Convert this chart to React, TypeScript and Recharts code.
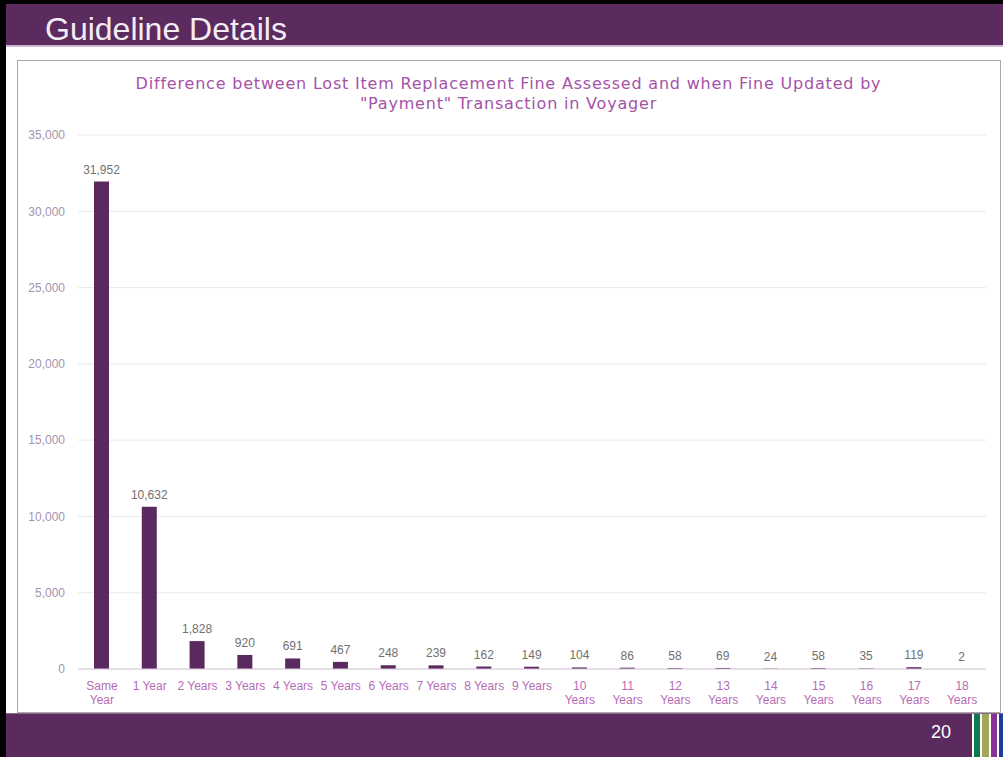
import { BarChart, Bar, XAxis, YAxis, CartesianGrid, LabelList } from "recharts";

// 분류 (지급까지 걸린 연수)
const categories = [
  "Same Year", "1 Year", "2 Years", "3 Years", "4 Years", "5 Years", "6 Years",
  "7 Years", "8 Years", "9 Years", "10 Years", "11 Years", "12 Years", "13 Years",
  "14 Years", "15 Years", "16 Years", "17 Years", "18 Years",
];

const counts = [
  31952, 10632, 1828, 920, 691, 467, 248, 239, 162, 149, 104, 86, 58, 69, 24, 58, 35, 119, 2,
];

const yTicks = [0, 5000, 10000, 15000, 20000, 25000, 30000, 35000];

const PURPLE = "#5b2b5f";
const FONT = "Liberation Sans, Arial, sans-serif";

const fmt = (v: number) => v.toLocaleString("en-US");

// 긴 라벨은 두 줄로
function CategoryTick(props: any) {
  const { x, y, payload } = props;
  const label: string = payload.value;
  const lines = label.length > 7 ? label.split(" ") : [label];
  return (
    <text x={x} y={y} textAnchor="middle" fill="#b56cb6" fontSize={12} fontFamily={FONT}>
      {lines.map((l, i) => (
        <tspan key={i} x={x} dy={i === 0 ? 21 : 14}>
          {l}
        </tspan>
      ))}
    </text>
  );
}

export default function App() {
  const data = categories.map((name, i) => ({ name, value: counts[i] }));

  return (
    <div
      style={{
        position: "absolute",
        left: 0,
        top: 0,
        width: 1003,
        height: 757,
        background: "#fff",
        overflow: "hidden",
        fontFamily: FONT,
      }}
    >
      {/* 슬라이드 테두리와 헤더 */}
      <div style={{ position: "absolute", left: 0, top: 0, width: 6, height: 757, background: "#000" }} />
      <div style={{ position: "absolute", left: 0, top: 0, width: 1003, height: 4, background: "#000" }} />
      <div style={{ position: "absolute", left: 6, top: 4, right: 0, height: 41, background: PURPLE }} />
      <div style={{ position: "absolute", left: 6, top: 45, right: 0, height: 2, background: "#cdb6d0" }} />
      <div
        style={{
          position: "absolute",
          left: 45,
          top: 13,
          fontSize: 32,
          lineHeight: "32px",
          color: "#f4ecf4",
          whiteSpace: "nowrap",
        }}
      >
        Guideline Details
      </div>

      {/* 차트 박스 */}
      <div
        style={{
          position: "absolute",
          left: 17,
          top: 60,
          width: 982,
          height: 651,
          border: "1px solid #a8a8a8",
        }}
      />
      <div
        style={{
          position: "absolute",
          left: 17,
          top: 74,
          width: 983,
          textAlign: "center",
          fontFamily: "DejaVu Sans, sans-serif",
          fontSize: 16,
          letterSpacing: 0.8,
          lineHeight: "20px",
          color: "#a552a8",
        }}
      >
        Difference between Lost Item Replacement Fine Assessed and when Fine Updated by
        <br />
        "Payment" Transaction in Voyager
      </div>

      <div style={{ position: "absolute", left: 17, top: 60 }}>
        <BarChart width={983} height={652} data={data} margin={{ top: 75, right: 14, bottom: 5, left: 11 }}>
          <CartesianGrid vertical={false} stroke="#ece7ec" />
          <XAxis
            dataKey="name"
            interval={0}
            height={38}
            tickLine={false}
            tickSize={0}
            tickMargin={0}
            axisLine={{ stroke: "#d8cad8" }}
            tick={<CategoryTick />}
          />
          <YAxis
            width={50}
            domain={[0, 35000]}
            ticks={yTicks}
            tickFormatter={fmt}
            axisLine={false}
            tickLine={false}
            tickSize={0}
            tickMargin={13}
            tick={{ fontSize: 12, fill: "#a592b0", fontFamily: FONT }}
          />
          <Bar dataKey="value" fill="#5a2960" barSize={15} isAnimationActive={false}>
            <LabelList
              dataKey="value"
              position="top"
              offset={8}
              formatter={(v: any) => fmt(Number(v))}
              style={{ fontSize: 12, fill: "#707070", fontFamily: FONT }}
            />
          </Bar>
        </BarChart>
      </div>

      {/* 하단 바 */}
      <div style={{ position: "absolute", left: 6, top: 714, right: 0, height: 43, background: PURPLE }} />
      <div style={{ position: "absolute", left: 6, top: 713, right: 0, height: 1, background: "#8a6a8e" }} />
      <div
        style={{
          position: "absolute",
          left: 931,
          top: 722,
          fontSize: 18,
          lineHeight: "20px",
          color: "#fff",
        }}
      >
        20
      </div>
      <div style={{ position: "absolute", left: 972, top: 714, width: 31, height: 43, background: "#fff" }} />
      <div style={{ position: "absolute", left: 974, top: 714, width: 6, height: 43, background: "#0c7a52" }} />
      <div style={{ position: "absolute", left: 982, top: 714, width: 7, height: 43, background: "#a4a45a" }} />
      <div style={{ position: "absolute", left: 991, top: 714, width: 6, height: 43, background: "#86309a" }} />
      <div style={{ position: "absolute", left: 999, top: 714, width: 4, height: 43, background: "#1d3c9c" }} />
    </div>
  );
}
